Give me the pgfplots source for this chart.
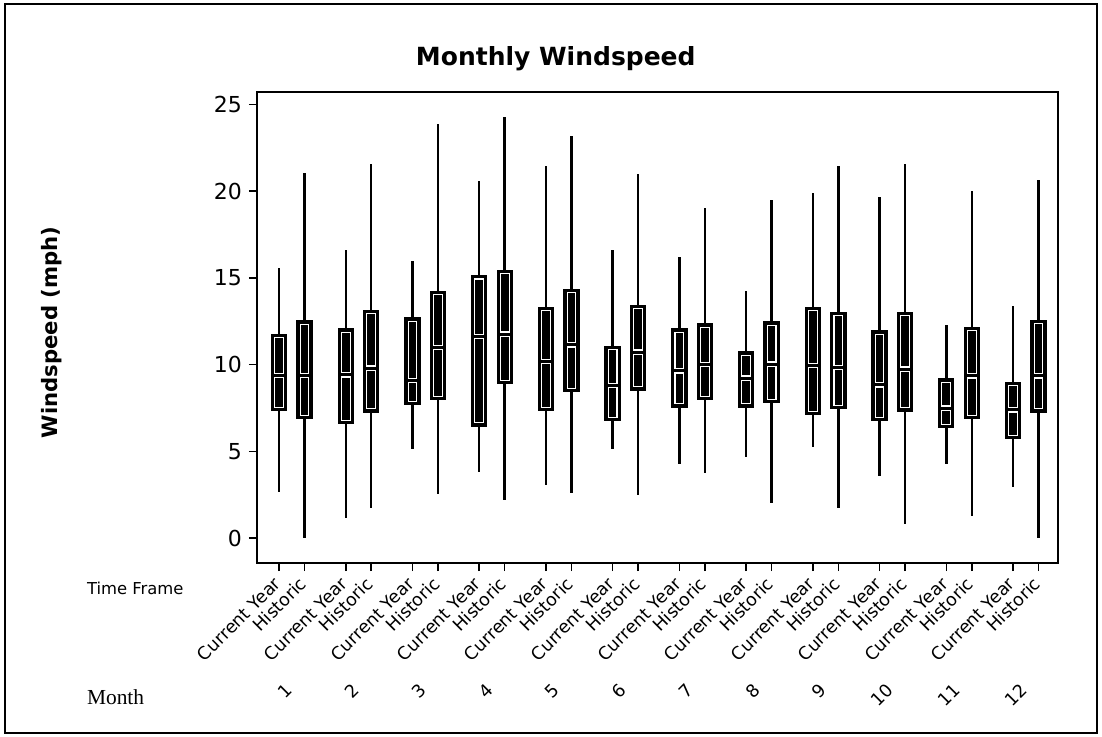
\documentclass[border=0pt]{standalone}
\usepackage{fontspec}
\setmainfont{DejaVu Sans}
\newfontfamily\serifmonth{Liberation Serif}
\usepackage{pgfplots}
\pgfplotsset{compat=1.18}
\usepgfplotslibrary{statistics}

% black box, white inner outline for each half (Minitab look)
\pgfplotsset{
  boxplot/draw direction=y,
  boxplot/draw/box/.code={%
    \draw[black, fill=black, line width=1.5pt]
      (boxplot box cs:\pgfplotsboxplotvalue{lower quartile},0) rectangle
      (boxplot box cs:\pgfplotsboxplotvalue{upper quartile},1);
    \draw[white, line width=0.55pt]
      ([shift={(1.15pt,1.15pt)}]boxplot box cs:\pgfplotsboxplotvalue{lower quartile},0) rectangle
      ([shift={(-1.15pt,-1.05pt)}]boxplot box cs:\pgfplotsboxplotvalue{median},1);
    \draw[white, line width=0.55pt]
      ([shift={(1.15pt,1.05pt)}]boxplot box cs:\pgfplotsboxplotvalue{median},0) rectangle
      ([shift={(-1.15pt,-1.15pt)}]boxplot box cs:\pgfplotsboxplotvalue{upper quartile},1);
  },
  boxplot/draw/median/.code={},
}
\newcommand{\bx}[6]{%
  \addplot[black, line width=1.2pt, boxplot prepared={draw position=#1,
    lower whisker=#2, lower quartile=#3, median=#4,
    upper quartile=#5, upper whisker=#6, box extend=0.2, whisker extend=0}]
    coordinates {};}

\begin{document}
\begin{tikzpicture}
\begin{axis}[
    scale only axis, width=400.5pt, height=235.5pt,
    xmin=0.67, xmax=12.674, ymin=-1.44, ymax=25.72,
    axis line style={line width=1pt}, tick style={line width=0.8pt, black},
    tick pos=left, tick align=outside, major tick length=4pt,
    ytick={0,5,...,25},
    xtick={1,1.382,2,2.382,3,3.382,4,4.382,5,5.382,6,6.382,7,7.382,8,8.382,9,9.382,10,10.382,11,11.382,12,12.382},
    xticklabels={Current Year,Historic,Current Year,Historic,Current Year,Historic,Current Year,Historic,Current Year,Historic,Current Year,Historic,Current Year,Historic,Current Year,Historic,Current Year,Historic,Current Year,Historic,Current Year,Historic,Current Year,Historic},
    xticklabel shift=4pt,
    xticklabel style={rotate=45, anchor=east, inner sep=1pt, font=\fontsize{8.8}{10}\selectfont},
    yticklabel style={font=\fontsize{11}{13}\selectfont},
    /pgf/number format/assume math mode=true,
    extra x ticks={1.18,2.18,3.18,4.18,5.18,6.18,7.18,8.18,9.18,10.18,11.18,12.18},
    extra x tick labels={1,2,3,4,5,6,7,8,9,10,11,12},
    extra x tick style={major tick length=0pt, xticklabel shift=61pt,
      tick label style={anchor=center, font=\fontsize{10.5}{12}\selectfont}},
    title={Monthly Windspeed},
    title style={at={(axis description cs:0.373,1.03)}, anchor=base,
      font=\bfseries\fontsize{12.5}{15}\selectfont},
    ylabel={Windspeed (mph)},
    every axis y label/.style={at={(axis description cs:-0.256,0.49)},
      rotate=90, anchor=center, font=\bfseries\fontsize{10.6}{13}\selectfont},
  ]
  \bx{1}{2.64}{7.41}{9.37}{11.68}{15.6}
  \bx{1.382}{0.0}{6.95}{9.37}{12.47}{21.05}
  \bx{2}{1.17}{6.64}{9.41}{12.01}{16.63}
  \bx{2.382}{1.75}{7.32}{9.8}{13.08}{21.59}
  \bx{3}{5.14}{7.74}{9.08}{12.64}{15.95}
  \bx{3.382}{2.52}{8.05}{10.99}{14.16}{23.88}
  \bx{4}{3.83}{6.51}{11.62}{15.07}{20.57}
  \bx{4.382}{2.19}{8.95}{11.76}{15.39}{24.27}
  \bx{5}{3.06}{7.41}{10.16}{13.26}{21.46}
  \bx{5.382}{2.62}{8.49}{11.14}{14.28}{23.17}
  \bx{6}{5.14}{6.84}{8.78}{11.01}{16.63}
  \bx{6.382}{2.48}{8.59}{10.72}{13.37}{21.02}
  \bx{7}{4.27}{7.6}{9.64}{12.01}{16.19}
  \bx{7.382}{3.73}{8.05}{9.99}{12.29}{19.03}
  \bx{8}{4.7}{7.6}{9.22}{10.68}{14.26}
  \bx{8.382}{2.04}{7.86}{10.03}{12.41}{19.48}
  \bx{9}{5.27}{7.18}{9.93}{13.26}{19.9}
  \bx{9.382}{1.71}{7.51}{9.85}{12.95}{21.48}
  \bx{10}{3.58}{6.84}{8.83}{11.89}{19.67}
  \bx{10.382}{0.81}{7.37}{9.74}{12.97}{21.59}
  \bx{11}{4.27}{6.41}{7.49}{9.12}{12.26}
  \bx{11.382}{1.27}{6.93}{9.35}{12.08}{20.0}
  \bx{12}{2.96}{5.78}{7.39}{8.93}{13.36}
  \bx{12.382}{0.0}{7.32}{9.35}{12.51}{20.67}
\end{axis}
% row captions on the left, outer frame
\node[anchor=west, font=\fontsize{8.2}{10}\selectfont] at (-88.5pt,-12.5pt) {Time Frame};
\node[anchor=west, font=\serifmonth\fontsize{10.7}{12}\selectfont] at (-88.5pt,-67pt) {Month};
\draw[line width=1pt] (-126pt,-85pt) rectangle (420pt,279.5pt);
\useasboundingbox (-128.5pt,-86.5pt) rectangle (422.5pt,281.5pt);
\end{tikzpicture}
\end{document}
